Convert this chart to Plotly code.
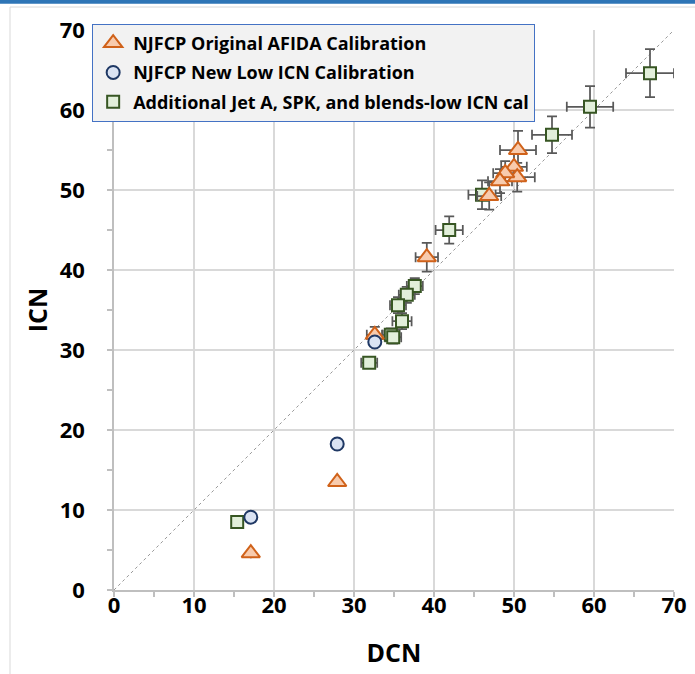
import plotly.graph_objects as go

# NJFCP Original AFIDA Calibration (triangles)
tri_dcn = [50.5, 50.0, 50.4, 48.9, 48.25, 46.9, 39.1, 32.6, 27.9, 17.1]
tri_icn = [55.0, 52.9, 51.6, 52.1, 51.1, 49.25, 41.6, 31.9, 13.5, 4.6]
tri_ex = [2.25, 1.6, 2.2, 1.5, 1.5, 1.5, 1.4, 1.0, 0, 0]
tri_ey = [2.4, 1.6, 1.8, 1.5, 1.5, 1.7, 1.8, 1.0, 0, 0]

# NJFCP New Low ICN Calibration (circles)
cir_dcn = [32.6, 27.9, 17.1]
cir_icn = [31.0, 18.25, 9.1]

# Additional Jet A, SPK, and blends-low ICN cal (squares)
sq_dcn = [67.0, 59.5, 54.75, 46.0, 41.9, 37.6, 36.6, 35.5, 36.0, 34.6, 34.9, 31.9, 15.4]
sq_icn = [64.6, 60.4, 56.9, 49.4, 45.0, 38.0, 36.9, 35.6, 33.6, 31.9, 31.6, 28.4, 8.5]
sq_ex = [3.0, 2.9, 2.5, 1.7, 1.7, 1.0, 1.0, 1.0, 1.2, 1.1, 1.0, 1.0, 0]
sq_ey = [3.0, 2.6, 2.3, 1.8, 1.7, 1.0, 1.0, 1.0, 1.0, 0.8, 0.8, 0, 0]

x_ticks = [0, 10, 20, 30, 40, 50, 60, 70]
y_ticks = [0, 10, 20, 30, 40, 50, 60, 70]

FONT = "Open Sans"
ERR = "#595959"

fig = go.Figure()

# 1:1 line
fig.add_trace(go.Scatter(x=[0, 70], y=[0, 70], mode="lines",
                         line=dict(color="#999999", width=1, dash="dot"),
                         showlegend=False, hoverinfo="skip"))

fig.add_trace(go.Scatter(
    x=sq_dcn, y=sq_icn, mode="markers",
    name="Additional Jet A, SPK, and blends-low ICN cal", legendrank=3, legendgroup="c",
    marker=dict(symbol="square", size=12, color="#e2efda",
                line=dict(color="#375623", width=2)),
    error_x=dict(type="data", array=sq_ex, color=ERR, thickness=1.75, width=5),
    error_y=dict(type="data", array=sq_ey, color=ERR, thickness=1.75, width=5),
))

fig.add_trace(go.Scatter(
    x=tri_dcn, y=tri_icn, mode="markers",
    name="NJFCP Original AFIDA Calibration", legendrank=1, legendgroup="a",
    marker=dict(symbol="triangle-up", size=16, color="#f8cbad",
                line=dict(color="#d0621a", width=2)),
    error_x=dict(type="data", array=tri_ex, color=ERR, thickness=1.75, width=5),
    error_y=dict(type="data", array=tri_ey, color=ERR, thickness=1.75, width=5),
))

fig.add_trace(go.Scatter(
    x=cir_dcn, y=cir_icn, mode="markers",
    name="NJFCP New Low ICN Calibration", legendrank=2, legendgroup="b",
    marker=dict(symbol="circle", size=13, color="#dae3f3",
                line=dict(color="#1f3864", width=2)),
))

axis_common = dict(
    range=[0, 70], showgrid=True, gridcolor="#d9d9d9", gridwidth=1.5,
    showline=True, linecolor="#bfbfbf", linewidth=1.5,
    ticks="outside", ticklen=5, tickcolor="#bfbfbf", tickwidth=1.5,
    minor=dict(ticks="outside", dtick=5, ticklen=5, tickcolor="#bfbfbf", tickwidth=1.5, showgrid=False),
    tickfont=dict(family=FONT, size=22, color="black", weight="bold"),
    zeroline=False, fixedrange=True, automargin=False,
)

fig.update_xaxes(tickmode="array", tickvals=x_ticks, ticktext=[str(v) for v in x_ticks],
                 title=dict(text="<b>DCN</b>", font=dict(family=FONT, size=25, color="black"), standoff=26),
                 ticklabelstandoff=-10, **axis_common)
fig.update_yaxes(tickmode="array", tickvals=y_ticks, ticktext=[str(v) for v in y_ticks],
                 title=dict(text="<b>ICN</b>", font=dict(family=FONT, size=25, color="black"), standoff=5),
                 ticklabelstandoff=18, **axis_common)

fig.update_layout(
    width=695, height=674,
    margin=dict(l=114, r=21, t=30, b=84),
    paper_bgcolor="white", plot_bgcolor="white",
    legend=dict(x=-0.039, y=1.011, xanchor="left", yanchor="top",
                bgcolor="#f2f2f2", bordercolor="#4472c4", borderwidth=1,
                font=dict(family=FONT, size=18, color="black", weight="bold"),
                itemwidth=30, tracegroupgap=3, traceorder="grouped"),
    shapes=[
        dict(type="line", xref="paper", yref="paper", x0=-0.22, x1=1.05, y0=1.0505, y1=1.0505,
             line=dict(color="#2e75b6", width=4), layer="above"),
        dict(type="line", xref="paper", yref="paper", x0=-0.1857, x1=1.05, y0=1.041, y1=1.041,
             line=dict(color="#d9d9d9", width=1), layer="below"),
        dict(type="line", xref="paper", yref="paper", x0=-0.1857, x1=-0.1857, y0=-0.2, y1=1.041,
             line=dict(color="#d9d9d9", width=1), layer="below"),
    ],
)

fig.write_html("out.html", config={"displayModeBar": False},
               post_script="document.body.style.margin='0';")
